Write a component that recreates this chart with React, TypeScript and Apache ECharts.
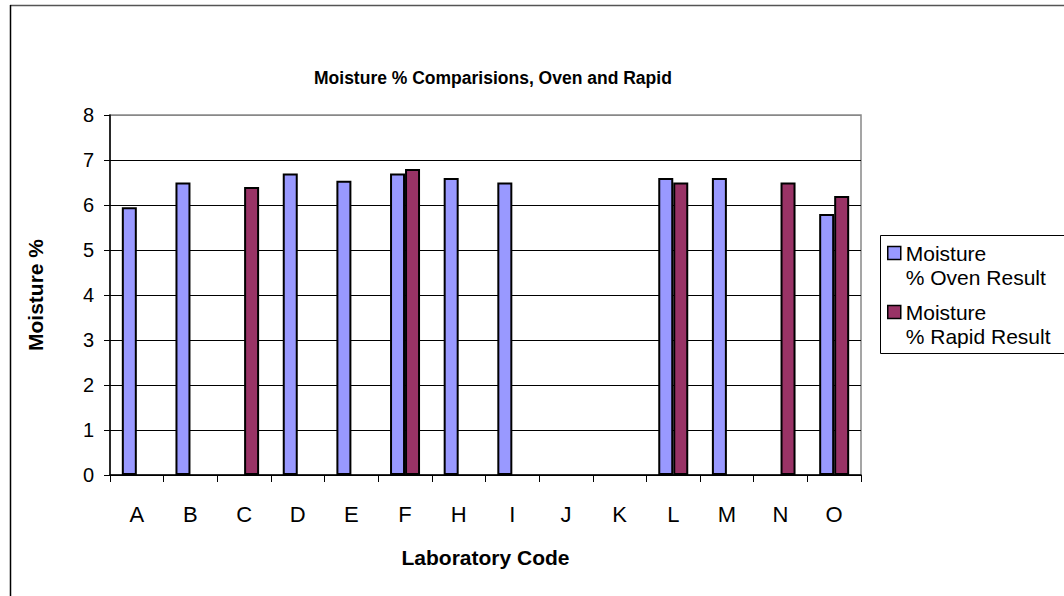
import React, { useEffect, useRef } from "react";
import * as echarts from "echarts";

const categories = ["A", "B", "C", "D", "E", "F", "H", "I", "J", "K", "L", "M", "N", "O"];
const ovenValues: (number | null)[] = [5.95, 6.5, null, 6.7, 6.54, 6.7, 6.6, 6.5, null, null, 6.6, 6.6, null, 5.8];
const rapidValues: (number | null)[] = [null, null, 6.4, null, null, 6.8, null, null, null, null, 6.5, null, 6.5, 6.2];
const yTicks = [0, 1, 2, 3, 4, 5, 6, 7, 8];

const FONT = "'Liberation Sans', Arial, sans-serif";
const OVEN_NAME = "Moisture\n% Oven Result";
const RAPID_NAME = "Moisture\n% Rapid Result";

export default function App() {
  const ref = useRef<HTMLDivElement>(null);
  useEffect(() => {
    if (!ref.current) return;
    const chart = echarts.init(ref.current, undefined, { renderer: "svg" });
    const LH = 24;
    const legendCommon = {
      orient: "vertical" as const,
      left: 887,
      itemWidth: 13,
      itemHeight: 13,
      padding: 0,
      icon: "rect",
      itemStyle: { borderColor: "#000", borderWidth: 1.5 },
      formatter: (name: string) => " \n" + name,
      textStyle: {
        fontFamily: FONT,
        fontSize: 21,
        color: "#000",
        lineHeight: LH,
      },
      selectedMode: false,
    };
    chart.setOption({
      animation: false,
      backgroundColor: "#fff",
      title: {
        text: "Moisture % Comparisions, Oven and Rapid",
        left: 309,
        top: 64,
        textStyle: { fontFamily: FONT, fontSize: 17.5, fontWeight: "bold", color: "#000" },
      },
      legend: [
        { ...legendCommon, top: 253 - 1.5 * LH, data: [OVEN_NAME] },
        { ...legendCommon, top: 312 - 1.5 * LH, data: [RAPID_NAME] },
      ],
      grid: {
        left: 110,
        top: 115,
        right: 203,
        bottom: 121,
        show: true,
        borderColor: "#888",
        borderWidth: 1.5,
        backgroundColor: "transparent",
      },
      xAxis: {
        type: "category",
        data: categories,
        name: "Laboratory Code",
        nameLocation: "middle",
        nameGap: 72,
        nameTextStyle: { fontFamily: FONT, fontSize: 21, fontWeight: "bold", color: "#000" },
        axisLine: { lineStyle: { color: "#000", width: 1.5 } },
        axisTick: { show: true, length: 7, lineStyle: { color: "#000" } },
        axisLabel: { fontFamily: FONT, fontSize: 22, color: "#000", margin: 28 },
      },
      yAxis: {
        type: "value",
        min: yTicks[0],
        max: yTicks[yTicks.length - 1],
        interval: 1,
        name: "Moisture %",
        nameLocation: "middle",
        nameGap: 64,
        nameTextStyle: { fontFamily: FONT, fontSize: 21, fontWeight: "bold", color: "#000" },
        axisLine: { show: true, lineStyle: { color: "#000", width: 1.5 } },
        axisTick: { show: true, length: 6, lineStyle: { color: "#000" } },
        axisLabel: { fontFamily: FONT, fontSize: 20, color: "#000", margin: 16 },
        splitLine: {
          show: true,
          lineStyle: { color: ["#000", "#000", "#000", "#000", "#000", "#000", "#000", "#000", "#888"], width: 1 },
        },
      },
      series: [
        {
          name: OVEN_NAME,
          type: "bar",
          data: ovenValues,
          barWidth: 15,
          barGap: "0%",
          itemStyle: { color: "#9999FF", borderColor: "#000", borderWidth: 2 },
        },
        {
          name: RAPID_NAME,
          type: "bar",
          data: rapidValues,
          barWidth: 15,
          barGap: "0%",
          itemStyle: { color: "#993366", borderColor: "#000", borderWidth: 2 },
        },
      ],
      graphic: [
        { type: "line", shape: { x1: 10, y1: 5.5, x2: 1064, y2: 5.5 }, style: { stroke: "#555", lineWidth: 1.5 } },
        { type: "line", shape: { x1: 10.5, y1: 5, x2: 10.5, y2: 596 }, style: { stroke: "#000", lineWidth: 1.5 } },
        { type: "rect", shape: { x: 880.5, y: 235.5, width: 300, height: 118 }, style: { fill: "none", stroke: "#000", lineWidth: 1 }, z: -1 },
      ],
    });
    return () => chart.dispose();
  }, []);
  return (
    <div
      ref={ref}
      style={{ position: "absolute", left: 0, top: 0, width: 1064, height: 596 }}
    />
  );
}
